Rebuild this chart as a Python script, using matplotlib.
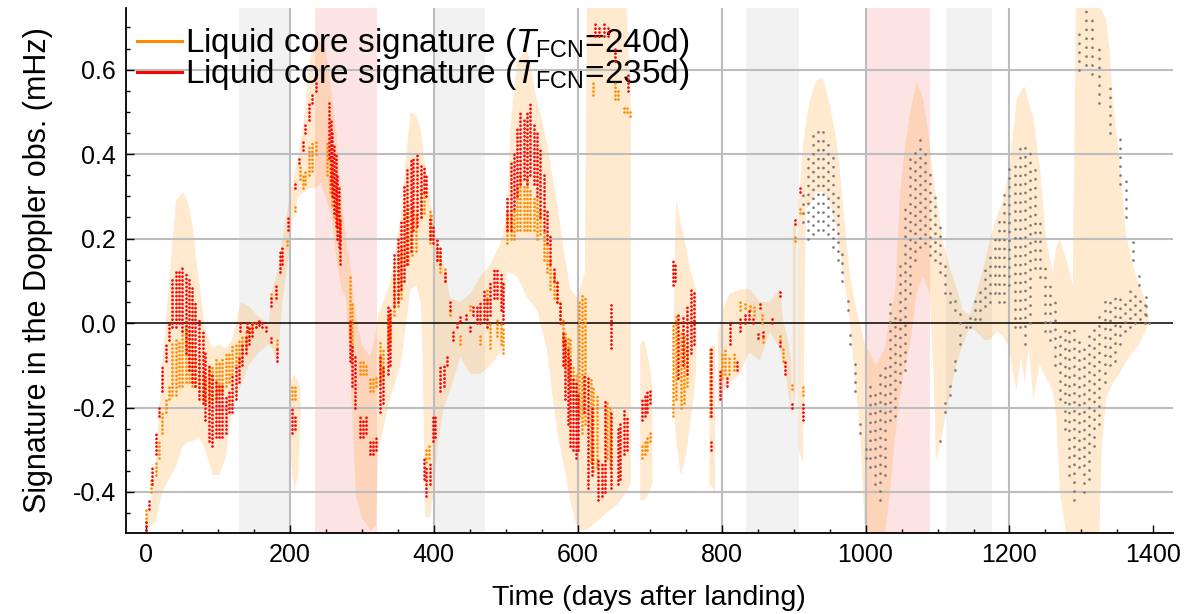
import numpy as np
import matplotlib
matplotlib.use("Agg")
import matplotlib.pyplot as plt
from matplotlib.lines import Line2D
from matplotlib.ticker import MultipleLocator, FormatStrFormatter

plt.rcParams['font.family'] = ['Liberation Sans', 'DejaVu Sans']
plt.rcParams['mathtext.fontset'] = 'custom'
plt.rcParams['mathtext.rm'] = 'Liberation Sans'
plt.rcParams['mathtext.it'] = 'Liberation Sans:italic'
plt.rcParams['axes.unicode_minus'] = False

ORANGE = '#ff8c00'
RED = '#ff0000'
GRAY = '#7a7a7a'

# shaded periods (days after landing)
gray_spans = [(129, 199), (402, 471), (834, 907), (1112, 1176)]
pink_spans = [(235, 321), (999, 1089)]

# uncertainty envelope (day, low, high); NaN rows split the pieces
band = [
    (0, -0.49, -0.47), (8, -0.48, -0.42), (14, -0.47, -0.33), (23, -0.40, -0.10),
    (32, -0.37, 0.085), (42, -0.34, 0.29), (52, -0.29, 0.31), (60, -0.28, 0.28),
    (65, -0.28, 0.23), (74, -0.27, 0.10), (83, -0.30, -0.02), (93, -0.36, -0.06),
    (102, -0.36, -0.05), (111, -0.32, -0.06), (120, -0.21, -0.04), (132, -0.15, 0.05),
    (143, -0.10, 0.04), (157, -0.07, 0.015), (171, -0.05, 0.0), (176, -0.06, 0.08),
    (183, -0.10, 0.12), (190, 0.05, 0.20), (198, 0.15, 0.28), (204, 0.24, 0.33),
    (212, 0.30, 0.40), (220, 0.31, 0.48), (228, 0.32, 0.62), (236, 0.32, 0.68),
    (243, 0.33, 0.66), (250, 0.30, 0.65), (258, 0.25, 0.55), (265, 0.15, 0.45),
    (272, 0.08, 0.30), (278, 0.06, 0.20), (284, -0.10, 0.14), (292, -0.41, 0.02),
    (300, -0.46, -0.05), (312, -0.49, -0.08), (320, -0.48, -0.02), (323, -0.30, 0.02),
    (330, -0.25, 0.05), (340, -0.175, 0.10), (345, -0.15, 0.15), (354, -0.10, 0.25),
    (362, 0.0, 0.40), (368, 0.08, 0.50), (376, 0.09, 0.49), (382, 0.05, 0.46),
    (385, -0.10, 0.42), (388, -0.46, 0.38), (395, -0.46, 0.30), (400, -0.40, 0.24),
    (405, -0.30, 0.19), (409, -0.25, 0.16), (414, -0.20, 0.14), (423, -0.16, 0.06),
    (437, -0.08, 0.05), (451, -0.12, 0.07), (465, -0.12, 0.11), (479, -0.10, 0.14),
    (493, -0.07, 0.19), (502, 0.12, 0.26), (507, 0.12, 0.47), (516, 0.11, 0.62),
    (530, 0.06, 0.65), (544, 0.03, 0.52), (548, 0.0, 0.50), (557, -0.06, 0.43),
    (571, -0.25, 0.29), (580, -0.33, 0.18), (590, -0.42, 0.08), (600, -0.49, 0.06),
    (610, -0.49, 0.12), (613, -0.49, 0.75), (640, -0.45, 0.75), (655, -0.43, 0.75),
    (668, -0.40, 0.75), (674, -0.38, 0.50),
    (np.nan, np.nan, np.nan),
    (201, -0.30, -0.14), (206, -0.40, -0.12), (212, -0.36, -0.14), (215, -0.22, -0.15),
    (np.nan, np.nan, np.nan),
    (687, -0.42, -0.05), (693, -0.42, -0.04), (700, -0.40, -0.10), (704, -0.38, -0.15),
    (np.nan, np.nan, np.nan),
    (734, -0.20, 0.10), (737, -0.28, 0.29), (743, -0.36, 0.24), (747, -0.34, 0.21),
    (752, -0.30, 0.17), (756, -0.24, 0.13), (761, -0.18, 0.10), (765, -0.10, 0.08),
    (np.nan, np.nan, np.nan),
    (783, -0.38, -0.06), (791, -0.40, -0.05),
    (np.nan, np.nan, np.nan),
    (795, -0.20, -0.02), (803, -0.16, 0.04), (812, -0.14, 0.07), (826, -0.12, 0.08),
    (835, -0.08, 0.08), (840, -0.07, 0.08), (853, -0.09, 0.05), (867, -0.02, 0.05),
    (881, -0.06, 0.08), (886, -0.10, 0.0), (890, -0.13, -0.02), (897, -0.22, -0.09),
    (np.nan, np.nan, np.nan),
    (899, -0.22, 0.22), (903, -0.15, 0.25),
    (np.nan, np.nan, np.nan),
    (907, -0.30, 0.28), (913, -0.33, 0.42), (917, 0.27, 0.47), (923, 0.28, 0.53),
    (932, 0.31, 0.575), (941, 0.31, 0.58), (950, 0.29, 0.52), (960, 0.22, 0.43),
    (966, 0.15, 0.33), (973, 0.07, 0.20), (978, 0.0, 0.12), (985, -0.12, 0.05),
    (992, -0.25, 0.0), (999, -0.49, -0.05), (1015, -0.50, -0.10), (1027, -0.50, -0.06),
    (1034, -0.40, 0.02), (1041, -0.27, 0.07), (1048, -0.17, 0.31), (1055, -0.10, 0.42),
    (1062, -0.05, 0.50), (1071, 0.07, 0.57), (1080, 0.11, 0.53), (1089, 0.07, 0.43),
    (1094, -0.10, 0.35), (1098, -0.33, 0.30), (1108, -0.25, 0.19), (1117, -0.17, 0.13),
    (1126, -0.10, 0.086), (1135, -0.05, 0.03), (1145, -0.01, 0.02), (1154, -0.02, 0.07),
    (1165, -0.04, 0.14), (1173, -0.04, 0.20), (1182, -0.02, 0.25), (1191, -0.03, 0.29),
    (1200, -0.06, 0.37), (1205, -0.12, 0.45), (1210, -0.16, 0.53), (1216, -0.08, 0.55),
    (1221, -0.14, 0.56), (1227, -0.06, 0.52), (1233, -0.18, 0.49), (1242, -0.10, 0.37),
    (1251, -0.13, 0.20), (1260, -0.16, 0.12), (1265, -0.22, 0.18), (1270, -0.40, 0.20),
    (1279, -0.50, 0.15), (1288, -0.50, 0.09), (1292, -0.50, 0.75), (1325, -0.50, 0.75),
    (1328, -0.30, 0.74), (1334, -0.18, 0.72), (1339, -0.16, 0.65), (1344, -0.14, 0.52),
    (1353, -0.12, 0.38), (1362, -0.09, 0.21), (1371, -0.07, 0.14), (1380, -0.05, 0.09),
    (1388, -0.02, 0.06), (1394, 0.0, 0.01),
]

# Doppler signature, T_FCN = 240 d (day, low, high of each observation column)
orange_cols = [
    (1, -0.47, -0.44), (7, -0.40, -0.37), (14, -0.36, -0.33), (18, -0.32, -0.28),
    (23, -0.26, -0.21), (28, -0.21, -0.18), (32, -0.18, -0.15), (37, -0.17, -0.05),
    (42, -0.17, -0.04), (46, -0.15, -0.04), (51, -0.15, -0.02), (55.5, -0.14, -0.01),
    (60, -0.14, -0.02), (65, -0.15, -0.04), (69, -0.15, -0.07), (74, -0.16, -0.09),
    (79, -0.18, -0.12), (83, -0.19, -0.13), (88, -0.19, -0.10), (92.5, -0.18, -0.10),
    (97, -0.18, -0.08), (102, -0.16, -0.09), (106, -0.16, -0.08), (111, -0.15, -0.07),
    (115.6, -0.14, -0.07), (120, -0.12, -0.05), (125, -0.10, -0.05), (129.5, -0.09, -0.04),
    (134, -0.08, -0.03), (139, -0.06, -0.02), (143, -0.04, -0.01), (148, -0.02, 0.0),
    (153, -0.01, 0.005), (174, 0.06, 0.07), (183, -0.06, -0.04), (197, 0.185, 0.195),
    (203, -0.18, -0.15), (207, -0.18, -0.15), (208, 0.265, 0.275), (214, 0.34, 0.37),
    (218, 0.32, 0.35), (222, 0.33, 0.36), (227, 0.35, 0.42), (231, 0.36, 0.43),
    (236, 0.40, 0.43), (252, 0.35, 0.43), (256, 0.31, 0.40), (259, 0.28, 0.38),
    (262, 0.25, 0.34), (266, 0.23, 0.30), (270, 0.20, 0.26), (284, -0.03, 0.11),
    (287, -0.085, 0.05), (298, -0.12, -0.085), (302, -0.12, -0.09), (306, -0.12, -0.10),
    (312, -0.16, -0.13), (316, -0.16, -0.13), (320, -0.15, -0.13), (326, -0.14, -0.04),
    (330, -0.12, -0.06), (336, -0.06, 0.02), (340, -0.04, 0.02), (345, 0.02, 0.12),
    (350, 0.04, 0.16), (354, 0.06, 0.18), (361, 0.14, 0.26), (365, 0.14, 0.28),
    (370, 0.16, 0.28), (375, 0.17, 0.26), (382, 0.25, 0.32), (386, 0.26, 0.31),
    (395, 0.19, 0.27), (397, 0.20, 0.26), (405, 0.15, 0.18), (409, 0.12, 0.17),
    (416, 0.10, 0.13), (423, 0.02, 0.03), (390, -0.33, -0.30), (393, -0.32, -0.29),
    (437, -0.05, -0.03), (451, 0.03, 0.04), (465, -0.05, -0.03), (474, 0.05, 0.08),
    (479, -0.06, 0.0), (488, -0.03, 0.01), (493, -0.05, 0.0), (497, -0.07, -0.01),
    (502, 0.19, 0.27), (507, 0.20, 0.26), (511, 0.20, 0.27), (516, 0.22, 0.33),
    (520, 0.22, 0.35), (525, 0.22, 0.33), (530, 0.22, 0.34), (534, 0.22, 0.32),
    (539, 0.22, 0.30), (544, 0.20, 0.30), (548, 0.21, 0.27), (553, 0.15, 0.22),
    (557, 0.12, 0.19), (562, 0.08, 0.15), (567, 0.06, 0.12), (571, 0.05, 0.10),
    (576, 0.01, 0.05), (580, -0.05, 0.01), (583, -0.10, -0.02), (587, -0.13, -0.03),
    (590, -0.16, -0.04), (594, -0.17, -0.10), (598, -0.19, -0.12), (602, -0.22, 0.05),
    (606, -0.26, 0.07), (610, -0.24, 0.06), (618, -0.33, -0.13), (622, -0.35, -0.15),
    (627, -0.34, -0.17), (641, -0.32, -0.19), (645, -0.34, -0.20), (622, 0.54, 0.57),
    (652, 0.53, 0.57), (656, 0.53, 0.55), (665, 0.50, 0.51), (669, 0.50, 0.51),
    (673, 0.49, 0.50), (689, -0.32, -0.29), (693, -0.31, -0.28), (697, -0.30, -0.27),
    (701, -0.28, -0.26), (733, -0.22, 0.0), (737, -0.18, 0.02), (743, -0.20, -0.02),
    (748, -0.19, -0.03), (752, -0.15, -0.05), (784, -0.22, -0.06), (800, -0.13, -0.07),
    (805, -0.12, -0.06), (810, -0.12, -0.08), (817, -0.11, -0.07), (826, 0.03, 0.05),
    (833, 0.035, 0.05), (840, 0.03, 0.045), (845, 0.02, 0.04), (856, 0.0, 0.02),
    (858, -0.045, -0.035), (881, -0.04, -0.03), (886, -0.09, -0.06), (898, -0.155, -0.145),
    (902, 0.195, 0.205), (909, 0.26, 0.27), (913, -0.17, -0.15),
]

# Doppler signature, T_FCN = 235 d
red_cols = [
    (0, -0.49, -0.47), (4.6, -0.44, -0.42), (9, -0.38, -0.34), (14, -0.31, -0.26),
    (18.5, -0.22, -0.20), (23, -0.16, -0.10), (28, -0.09, -0.05), (32, -0.04, 0.0),
    (37, -0.01, 0.11), (41.6, -0.01, 0.12), (46, 0.0, 0.12), (51, -0.02, 0.13),
    (55.5, -0.07, 0.12), (60, -0.11, 0.11), (65, -0.14, 0.09), (69, -0.15, 0.05),
    (74, -0.18, 0.01), (79, -0.19, -0.02), (83, -0.23, -0.07), (88, -0.28, -0.10),
    (92.5, -0.29, -0.12), (97, -0.27, -0.14), (102, -0.27, -0.15), (106, -0.27, -0.15),
    (111, -0.26, -0.17), (115.6, -0.21, -0.16), (120, -0.21, -0.12), (125, -0.18, -0.10),
    (129.5, -0.14, -0.08), (134, -0.10, -0.05), (139, -0.07, -0.03), (143, -0.05, -0.01),
    (148, -0.03, 0.0), (153, -0.01, 0.005), (157, -0.005, 0.005), (162, -0.01, 0.0),
    (167, -0.02, -0.01), (174.5, -0.045, -0.035), (183, -0.09, -0.06), (131, -0.02, 0.0),
    (141, -0.02, 0.0), (174, 0.04, 0.06), (181, 0.06, 0.09), (186, 0.12, 0.17),
    (190, 0.14, 0.18), (198, 0.22, 0.25), (203, -0.26, -0.20), (207, -0.25, -0.22),
    (207, 0.32, 0.33), (213, 0.38, 0.39), (218, 0.41, 0.43), (222, 0.45, 0.47),
    (227, 0.48, 0.52), (231, 0.52, 0.54), (236, 0.55, 0.57), (254, 0.39, 0.52),
    (257, 0.33, 0.48), (259, 0.30, 0.45), (262, 0.26, 0.42), (264, 0.23, 0.40),
    (266, 0.20, 0.35), (268, 0.18, 0.32), (270, 0.14, 0.25), (284, -0.09, 0.01),
    (287, -0.15, -0.05), (291, -0.20, -0.08), (298, -0.27, -0.22), (302, -0.27, -0.23),
    (306, -0.26, -0.22), (312, -0.31, -0.28), (316, -0.31, -0.28), (320, -0.30, -0.27),
    (326, -0.21, -0.08), (330, -0.19, -0.10), (336, -0.12, 0.04), (340, -0.10, 0.03),
    (345, 0.04, 0.16), (350, 0.05, 0.20), (354, 0.08, 0.24), (359, 0.10, 0.33),
    (363, 0.14, 0.37), (368, 0.17, 0.39), (372, 0.22, 0.39), (377, 0.23, 0.40),
    (382, 0.25, 0.38), (386, 0.31, 0.37), (390, 0.30, 0.35), (395, 0.20, 0.25),
    (399, 0.19, 0.23), (405, 0.15, 0.20), (409, 0.14, 0.18), (416, 0.10, 0.12),
    (423, 0.03, 0.05), (427, -0.04, -0.02), (386, -0.37, -0.32), (390, -0.41, -0.34),
    (395, -0.38, -0.33), (399, -0.28, -0.22), (402, -0.27, -0.22), (409, -0.16, -0.10),
    (414, -0.15, -0.10), (418, -0.10, -0.08), (432, -0.01, 0.0), (437, 0.005, 0.015),
    (445, 0.01, 0.02), (451, -0.02, -0.01), (455, 0.02, 0.04), (460, 0.0, 0.04),
    (465, 0.0, 0.05), (470, 0.01, 0.08), (474, -0.01, 0.06), (479, 0.02, 0.10),
    (484, 0.06, 0.13), (488, 0.06, 0.13), (493, 0.03, 0.12), (497, 0.0, 0.10),
    (502, 0.22, 0.30), (507, 0.22, 0.38), (511, 0.27, 0.40), (516, 0.30, 0.46),
    (520, 0.33, 0.50), (525, 0.34, 0.48), (530, 0.33, 0.50), (534, 0.35, 0.52),
    (539, 0.33, 0.47), (544, 0.30, 0.45), (548, 0.25, 0.41), (553, 0.22, 0.35),
    (557, 0.19, 0.27), (562, 0.14, 0.21), (567, 0.10, 0.13), (571, 0.05, 0.10),
    (576, 0.0, 0.05), (580, -0.10, -0.02), (583, -0.18, -0.04), (587, -0.24, -0.06),
    (590, -0.29, -0.08), (594, -0.30, -0.13), (598, -0.32, -0.14), (601, -0.30, -0.17),
    (609, -0.21, -0.12), (615, -0.39, -0.13), (620, -0.36, -0.20), (629, -0.42, -0.32),
    (634, -0.41, -0.33), (638, -0.40, -0.18), (647, -0.06, 0.05), (647, -0.39, -0.21),
    (656, -0.38, -0.25), (659, -0.37, -0.24), (665, -0.31, -0.20), (668, -0.30, -0.22),
    (624, 0.68, 0.71), (630, 0.68, 0.70), (636, 0.68, 0.71), (642, 0.68, 0.70),
    (652, 0.62, 0.65), (670, 0.55, 0.59), (689, -0.23, -0.18), (693, -0.22, -0.17),
    (697, -0.21, -0.16), (701, -0.19, -0.16), (733, 0.09, 0.15), (736, 0.10, 0.14),
    (740, -0.13, 0.02), (747, -0.10, 0.02), (752, -0.12, 0.04), (758, -0.07, 0.08),
    (762, -0.05, 0.07), (786, -0.22, -0.06), (786, -0.30, -0.28), (798, -0.18, -0.11),
    (807, -0.15, -0.13), (812, -0.05, 0.0), (821, -0.11, -0.09), (826, -0.02, 0.01),
    (833, 0.0, 0.02), (838, 0.01, 0.03), (843, 0.0, 0.015), (850, -0.035, -0.025),
    (853, 0.035, 0.045), (858, -0.03, -0.02), (870, 0.0, 0.015), (881, 0.065, 0.075),
    (881, -0.055, -0.045), (888, -0.12, -0.09), (898, -0.20, -0.19), (902, 0.235, 0.245),
    (909, 0.31, 0.325), (913, -0.23, -0.19),
]

# later observations (no liquid core fit shown)
gray_cols = [
    (913, 0.24, 0.31), (920, 0.20, 0.40), (927, 0.21, 0.45), (934, 0.22, 0.47),
    (941, 0.22, 0.47), (948, 0.21, 0.44), (955, 0.18, 0.40), (962, 0.15, 0.30),
    (968, 0.10, 0.18), (975, 0.03, 0.06), (978, -0.05, -0.02), (985, -0.16, -0.09),
    (993, -0.26, -0.24), (1000, -0.32, -0.29), (1006, -0.34, -0.14), (1013, -0.38, -0.15),
    (1020, -0.42, -0.12), (1027, -0.36, -0.09), (1034, -0.23, 0.05), (1041, -0.22, 0.02),
    (1048, -0.14, 0.15), (1055, -0.11, 0.29), (1062, 0.07, 0.39), (1069, 0.15, 0.41),
    (1075, 0.18, 0.45), (1082, 0.19, 0.41), (1089, 0.16, 0.37), (1096, 0.15, 0.31),
    (1103, 0.12, 0.23), (1103, -0.28, -0.26), (1110, 0.07, 0.15), (1110, -0.21, -0.19),
    (1117, 0.05, 0.09), (1117, -0.17, -0.13), (1124, 0.03, 0.07), (1124, -0.11, -0.07),
    (1131, 0.0, 0.04), (1131, -0.05, -0.02), (1140, -0.01, 0.01), (1145, -0.01, 0.02),
    (1152, 0.01, 0.07), (1159, 0.01, 0.09), (1166, 0.04, 0.13), (1173, 0.05, 0.16),
    (1180, 0.07, 0.21), (1186, 0.05, 0.25), (1193, 0.05, 0.31), (1200, 0.09, 0.38),
    (1207, -0.01, 0.39), (1214, -0.01, 0.42), (1221, -0.05, 0.43), (1228, 0.0, 0.41),
    (1235, 0.13, 0.37), (1242, 0.11, 0.24), (1249, -0.02, 0.15), (1256, -0.04, 0.10),
    (1263, -0.10, 0.05), (1270, -0.18, -0.02), (1277, -0.25, -0.01), (1283, -0.36, -0.02),
    (1290, -0.42, -0.01), (1297, -0.34, -0.03), (1304, -0.40, -0.05), (1311, -0.37, -0.02),
    (1318, -0.29, -0.01), (1325, -0.24, 0.02), (1332, -0.14, 0.06), (1339, -0.10, 0.06),
    (1346, -0.09, 0.06), (1353, -0.05, 0.06), (1360, -0.02, 0.05), (1367, -0.01, 0.09),
    (1374, 0.0, 0.08), (1381, 0.01, 0.06), (1388, 0.0, 0.05), (1394, 0.0, 0.02),
    (1297, 0.60, 0.69), (1306, 0.61, 0.74), (1315, 0.59, 0.73), (1325, 0.52, 0.66),
    (1339, 0.45, 0.56), (1353, 0.33, 0.44), (1362, 0.25, 0.34), (1371, 0.15, 0.21),
    (1380, 0.09, 0.13), (1390, 0.02, 0.07),
]

labels = [r'Liquid core signature ($T_{\mathrm{FCN}}$=240d)',
          r'Liquid core signature ($T_{\mathrm{FCN}}$=235d)']

fig = plt.figure(figsize=(11.91, 6.14), dpi=100)
ax = fig.add_axes([0.1054, 0.132, 0.8794, 0.855])

for a, b in gray_spans:
    ax.axvspan(a, b, color='#f2f2f2', lw=0, zorder=0)
for a, b in pink_spans:
    ax.axvspan(a, b, color='#fde4e4', lw=0, zorder=0)

bd = np.array(band, dtype=float)
ax.fill_between(bd[:, 0], bd[:, 1], bd[:, 2], color=ORANGE, alpha=0.19, lw=0, zorder=0.5)

for gx in [200, 400, 600, 800, 1000, 1200]:
    ax.axvline(gx, color='#bdbdbd', lw=1.5, zorder=1)
for gy in [-0.4, -0.2, 0.2, 0.4, 0.6]:
    ax.axhline(gy, color='#bdbdbd', lw=1.5, zorder=1)
ax.axhline(0, color='black', lw=1.1, zorder=1.5)

dots = (0, (0.01, 1.4))
for cols, c, lw, ls in [(orange_cols, ORANGE, 2.0, dots),
                        (red_cols, RED, 2.0, dots),
                        (gray_cols, GRAY, 2.0, (0, (0.01, 3.2)))]:
    arr = np.array(cols, dtype=float)
    ax.vlines(arr[:, 0], arr[:, 1], arr[:, 2], colors=c, linewidth=lw,
              linestyles=ls, capstyle='round', zorder=3)

handles = [Line2D([], [], color=ORANGE, lw=2.2), Line2D([], [], color=RED, lw=2.2)]
leg = ax.legend(handles, labels, loc='upper left', bbox_to_anchor=(0.011, 0.965),
                frameon=False, fontsize=24, handlelength=1.35, handletextpad=0.08,
                labelspacing=-0.12, borderpad=0, borderaxespad=0)
leg.set_zorder(2)

ax.set_xlim(-28, 1427)
ax.set_ylim(-0.497, 0.746)
ax.xaxis.set_major_locator(MultipleLocator(200))
ax.xaxis.set_minor_locator(MultipleLocator(50))
ax.yaxis.set_major_locator(MultipleLocator(0.2))
ax.yaxis.set_minor_locator(MultipleLocator(0.05))
ax.yaxis.set_major_formatter(FormatStrFormatter('%.1f'))
ax.tick_params(which='both', direction='in', labelsize=18, width=1, top=False, right=False)
ax.tick_params(which='major', length=6, pad=7)
ax.tick_params(which='minor', length=3)
for s in ['top', 'right']:
    ax.spines[s].set_visible(False)
for s in ['left', 'bottom']:
    ax.spines[s].set_linewidth(1.3)
    ax.spines[s].set_zorder(4)

ax.set_xlabel('Time (days after landing)', fontsize=20.5, labelpad=13)
ax.set_ylabel('Signature in the Doppler obs. (mHz)', fontsize=22, labelpad=14)

fig.savefig('out.png', dpi=100)
